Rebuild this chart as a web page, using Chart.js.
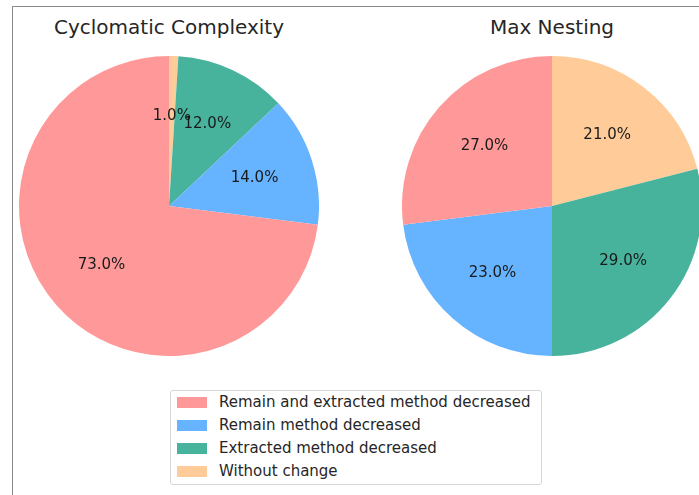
<!DOCTYPE html>
<html>
<head>
<meta charset="utf-8">
<script src="https://cdn.jsdelivr.net/npm/chart.js@4/dist/chart.umd.min.js"></script>
<style>
  html, body { margin: 0; padding: 0; background: #fff; width: 699px; height: 495px; overflow: hidden; }
  body { position: relative; font-family: "DejaVu Sans", sans-serif; }
  .frame { position: absolute; left: 12px; top: 6px; width: 700px; height: 500px;
           border-top: 1px solid #8a8a8a; border-left: 1px solid #8a8a8a; }
  .title { position: absolute; top: 15px; font-size: 20px; color: #262626; text-align: center; width: 300px; }
  canvas.pie { position: absolute; }
  #legend { position: absolute; left: 170px; top: 390px; width: 372px; height: 95px;
            border: 1px solid #d6d6d6; border-radius: 3px; box-sizing: border-box; }
  .item { position: absolute; left: 6px; height: 23px; line-height: 23px; font-size: 15px; color: #262626; white-space: nowrap; }
  .item span.sw { display: inline-block; width: 30px; height: 11px; vertical-align: middle; margin-right: 12px; }
  .item span.tx { vertical-align: middle; }
</style>
</head>
<body>
<div class="frame"></div>
<div class="title" style="left:19px">Cyclomatic Complexity</div>
<div class="title" style="left:402px">Max Nesting</div>
<canvas id="pie1" class="pie" width="300" height="300" style="left:19px;top:56px"></canvas>
<canvas id="pie2" class="pie" width="300" height="300" style="left:402px;top:56px"></canvas>
<div id="legend"></div>
<script>
var categories = ['Remain and extracted method decreased', 'Remain method decreased', 'Extracted method decreased', 'Without change'];
var colors = ['#ff9999', '#66b3ff', '#47b39c', '#ffcc99'];
var cyclomatic = [73, 14, 12, 1];
var nesting = [27, 23, 29, 21];

// matplotlib pie goes counterclockwise from the top, chart.js clockwise -> reverse
function rev(a) { return a.slice().reverse(); }

var pctLabels = {
  id: 'pctLabels',
  afterDatasetsDraw: function(chart) {
    var ctx = chart.ctx;
    var ds = chart.data.datasets[0];
    var total = ds.data.reduce(function(s, v) { return s + v; }, 0);
    chart.getDatasetMeta(0).data.forEach(function(arc, i) {
      var mid = (arc.startAngle + arc.endAngle) / 2;
      var r = arc.outerRadius * 0.6;
      ctx.save();
      ctx.fillStyle = '#1a1a1a';
      ctx.font = '15px "DejaVu Sans", sans-serif';
      ctx.textAlign = 'center';
      ctx.textBaseline = 'middle';
      ctx.fillText((ds.data[i] / total * 100).toFixed(1) + '%', arc.x + Math.cos(mid) * r, arc.y + Math.sin(mid) * r);
      ctx.restore();
    });
  }
};

function makePie(id, values) {
  return new Chart(document.getElementById(id), {
    type: 'pie',
    data: {
      labels: rev(categories),
      datasets: [{ data: rev(values), backgroundColor: rev(colors), borderWidth: 0 }]
    },
    options: {
      responsive: false,
      animation: false,
      layout: { padding: 0 },
      plugins: { legend: { display: false }, tooltip: { enabled: false } }
    },
    plugins: [pctLabels]
  });
}

makePie('pie1', cyclomatic);
makePie('pie2', nesting);

var leg = document.getElementById('legend');
categories.forEach(function(c, i) {
  var d = document.createElement('div');
  d.className = 'item';
  d.style.top = (0 + i * 23) + 'px';
  d.innerHTML = '<span class="sw" style="background:' + colors[i] + '"></span><span class="tx">' + c + '</span>';
  leg.appendChild(d);
});
</script>
</body>
</html>
